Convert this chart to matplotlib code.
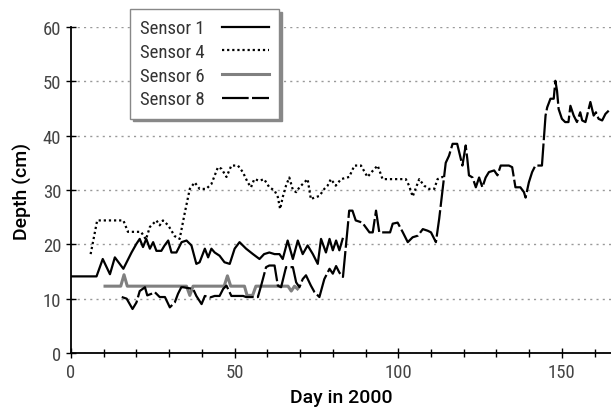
import matplotlib
matplotlib.use('Agg')
import matplotlib.pyplot as plt
from matplotlib.ticker import MultipleLocator

# sensor readings: day in 2000, depth (cm)
s1_day = [0, 7.8, 9.7, 11.9, 13.4, 16, 18.5, 20, 21, 22, 23, 24.1, 25.1, 26.1, 27.6, 28.6,
          29.7, 30.7, 32.2, 33.8, 35.3, 36.8, 38.3, 39.3, 40.9, 41.9, 42.9, 43.9, 45.4, 46.9,
          48.5, 50, 51.5, 53.5, 55.6, 57.6, 59, 60.6, 62.2, 63.7, 64.7, 66.2, 67.8, 69.3,
          70.8, 72.3, 73.9, 75.4, 76.4, 77.9, 79, 80, 81, 82, 83]
s1_depth = [14.1, 14.1, 17.3, 14.5, 17.6, 15.5, 18.5, 20.1, 21, 19.5, 21, 19.2, 20.4, 18.8,
            18.8, 19.8, 20.7, 18.5, 18.5, 20.4, 20.7, 19.8, 16.4, 16.7, 19.2, 17.6, 19.2,
            18.5, 17.9, 16.7, 16.4, 19.2, 20.4, 19.2, 18.2, 17.3, 18.2, 18.5, 18.2, 18.2,
            17.3, 20.7, 17.3, 20.7, 18.2, 19.8, 18.2, 16.4, 21, 18.5, 21, 18.9, 20.7, 18.9, 21]

s4_day = [6, 8, 16, 17.4, 21.4, 22.9, 24.1, 26.1, 27.1, 28.1, 29.7, 31.7, 33.2, 34.8, 36.3,
          37.8, 39.3, 41.3, 42.9, 44.9, 46, 47.5, 49, 51, 52.5, 54, 55, 56, 57.6, 59, 60.6,
          62.2, 63.2, 63.9, 64.7, 65.7, 66.7, 67.8, 68.8, 69.8, 71.3, 72.3, 73.3, 74.3, 75.9,
          77.4, 78.4, 79.4, 80.9, 82.5, 85, 86.6, 88.6, 90.6, 92, 93.7, 95.2, 97, 99.3, 102.3,
          103.3, 104.4, 105.4, 106.4, 107.9, 109.4, 111, 112, 113.5, 114]
s4_depth = [18.2, 24.4, 24.4, 22.3, 22.3, 20.9, 23.2, 24.4, 23.5, 24.4, 23.5, 21.5, 21, 25.9,
            30.2, 31.4, 30.2, 30.2, 31.1, 34.2, 33.9, 32.4, 34.5, 34.5, 33.3, 31.4, 30.5, 32,
            31.7, 32, 30.5, 29.9, 28.7, 26.5, 28.7, 30.8, 32.3, 30, 29.6, 30.5, 31.4, 32, 28.3,
            28.6, 28.9, 30.2, 30.8, 32, 30.8, 32, 32.4, 34.5, 34.5, 32.4, 33.4, 34.5, 32, 32,
            32, 32, 30.8, 28.8, 30.4, 32, 30.8, 30.2, 30.2, 32, 32.4, 32.4]

s6_day = [10.4, 15.2, 16.2, 17.2, 35.3, 36.3, 37.3, 46.8, 47.8, 48.8, 53, 53.8, 55.5, 56.5,
          66.3, 67.3, 68.3, 69.2]
s6_depth = [12.3, 12.3, 14.4, 12.3, 12.3, 10.6, 12.3, 12.3, 14.2, 12.3, 12.3, 10.6, 10.6,
            12.3, 12.3, 11.4, 12.3, 11.8]

s8_day = [15.5, 17, 18.8, 20, 21, 22.6, 23.3, 24.6, 25.6, 27.1, 28.7, 30.2, 31.7, 32.7, 33.7,
          34.3, 37.3, 38.3, 39.9, 40.9, 42.4, 43.9, 45.4, 46.5, 47.5, 49, 52.6, 53.5, 57.1,
          58.1, 59.6, 60.6, 62.2, 63.2, 64.2, 65.7, 67.8, 68.8, 69.8, 70.8, 71.8, 73.3, 74.4,
          75.9, 77.4, 79, 80, 81, 82, 83.1, 84.6, 85, 86, 87, 89, 91.2, 92.2, 93.2, 94.2, 96,
          97.5, 98.3, 99.8, 101.4, 102.9, 104.4, 106, 107.5, 109, 110, 111.5, 112.5, 114.5,
          115.5, 116.6, 118, 119.6, 120.6, 121.1, 121.6, 122.7, 123.7, 124.7, 125.7, 126.7,
          127.7, 129.3, 130.3, 131.3, 133.8, 134.8, 135.8, 137.3, 138.4, 138.9, 139.9, 140.9,
          141.9, 143.9, 145, 145.5, 146.5, 147.5, 148, 148.5, 149, 150, 151, 152, 152.6,
          153.6, 154.6, 155.6, 156.2, 157.2, 158.7, 159.7, 160.4, 161.2, 162.3, 163.3, 164.3]
s8_depth = [10.3, 10, 8.1, 9.3, 11.4, 12.1, 10.6, 10.9, 11.2, 10.3, 10.3, 8.4, 9.3, 10.9,
            12.1, 12.1, 11.8, 10.5, 9, 10.5, 10.2, 10.5, 10.5, 11.8, 12.4, 10.5, 10.5, 10.3,
            10.3, 12.4, 15.8, 16.1, 16.1, 12.4, 12.1, 15.8, 15.8, 13, 12.1, 13.6, 14.3, 12.4,
            11.2, 10.3, 13.6, 15.5, 14.6, 16, 14.8, 14, 23.5, 26.2, 26.2, 24.4, 24, 22.2, 22.2,
            26.2, 22.2, 22.2, 22.2, 23.8, 24, 22.2, 20.4, 21.3, 21.6, 22.8, 22.5, 22.2, 20.4,
            24.7, 35, 36.3, 38.5, 38.5, 34.5, 38.2, 35.7, 32.7, 32.3, 30.5, 32.3, 30.5, 32.3,
            33.3, 33.6, 32.7, 34.5, 34.5, 34.2, 30.5, 30.5, 29.6, 28.6, 31.4, 33.3, 34.5, 34.5,
            43.7, 45.2, 46.8, 46.8, 50.1, 48.3, 44.9, 43.1, 42.5, 42.5, 45.5, 43.7, 42.5, 44.3,
            42.8, 42.5, 46.2, 43.7, 44.3, 43.1, 42.8, 44, 44.6]

narrow = ['Roboto Condensed', 'DejaVu Sans']

fig = plt.figure(figsize=(6.11, 4.10), dpi=100)
ax = fig.add_axes([0.1162, 0.1366, 0.8838, 0.7951])

ax.plot(s1_day, s1_depth, color='black', lw=1.6, label='Sensor 1')
ax.plot(s4_day, s4_depth, color='black', lw=1.6, ls=(0, (1, 1.3)), label='Sensor 4')
ax.plot(s6_day, s6_depth, color='#808080', lw=2.2, label='Sensor 6')
ax.plot(s8_day, s8_depth, color='black', lw=1.6, ls=(0, (12, 1.5)), label='Sensor 8')

ax.set_xlim(0, 165)
ax.set_ylim(0, 60)
ax.xaxis.set_major_locator(MultipleLocator(50))
ax.xaxis.set_minor_locator(MultipleLocator(10))
ax.yaxis.set_major_locator(MultipleLocator(10))
ax.grid(axis='y', color='#999999', ls=(0, (1.5, 3)), lw=1)
ax.set_axisbelow(True)

for side in ['top', 'right']:
    ax.spines[side].set_visible(False)
for side in ['left', 'bottom']:
    ax.spines[side].set_linewidth(1.3)

ax.tick_params(axis='both', which='both', direction='inout', length=7, width=1, colors='black',
               labelcolor='#444444', labelsize=13.5)
ax.tick_params(axis='x', which='minor', length=6)
for lab in ax.get_xticklabels() + ax.get_yticklabels():
    lab.set_family(narrow)

ax.set_xlabel('Day in 2000', fontsize=14, family=['Roboto', 'DejaVu Sans'], weight='medium',
              labelpad=5)
ax.set_ylabel('Depth (cm)', fontsize=14, family=['Roboto', 'DejaVu Sans'], weight='medium',
              labelpad=8)

leg = ax.legend(loc='upper left', bbox_to_anchor=(0.109, 1.055), borderaxespad=0,
                markerfirst=False, fancybox=False, shadow={'color': '#888888', 'alpha': 1},
                frameon=True, edgecolor='#888888', framealpha=1, handlelength=2.5,
                labelspacing=0.3, borderpad=0.55, handletextpad=0.9,
                prop={'family': narrow, 'size': 13.5})
leg.get_frame().set_linewidth(1)
for t in leg.get_texts():
    t.set_color('#333333')

fig.savefig('out.png', dpi=100)
